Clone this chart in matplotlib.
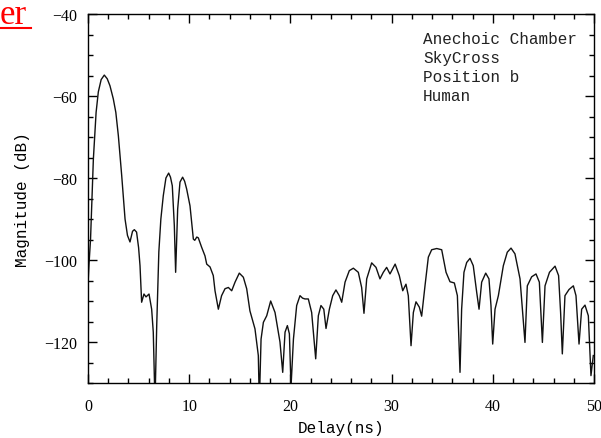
import matplotlib.pyplot as plt
from matplotlib.lines import Line2D
from matplotlib.ticker import MultipleLocator

# delay (ns) and magnitude (dB)
delay = [0.0, 0.1, 0.25, 0.53, 0.8, 1.02, 1.3, 1.61, 1.9, 2.17, 2.5, 2.75, 3.0,
         3.33, 3.66, 3.9, 4.15, 4.4, 4.58, 4.8, 5.0, 5.14, 5.3, 5.53, 5.73, 6.03,
         6.29, 6.45, 6.62, 6.79, 7.0, 7.2, 7.44, 7.7, 7.97, 8.15, 8.33, 8.53, 8.66,
         8.86, 9.09, 9.35, 9.55, 9.75, 10.08, 10.41, 10.55, 10.75, 10.9, 11.23,
         11.56, 11.73, 12.06, 12.38, 12.55, 12.88, 13.2, 13.54, 13.87, 14.2, 14.53,
         14.95, 15.35, 15.68, 16.0, 16.5, 16.83, 16.93, 17.1, 17.33, 17.66, 18.05,
         18.48, 18.97, 19.24, 19.47, 19.7, 19.9, 20.06, 20.3, 20.62, 20.95, 21.2,
         21.44, 21.77, 22.1, 22.5, 22.76, 23.02, 23.3, 23.52, 23.85, 24.18, 24.5,
         24.83, 25.07, 25.4, 25.82, 26.22, 26.71, 27.04, 27.27, 27.54, 28.03, 28.46,
         28.85, 29.18, 29.51, 29.84, 30.35, 30.76, 31.1, 31.42, 31.65, 31.92, 32.15,
         32.41, 32.74, 32.97, 33.3, 33.63, 33.96, 34.46, 34.95, 35.38, 35.77, 36.2,
         36.5, 36.76, 36.92, 37.15, 37.42, 37.75, 38.07, 38.41, 38.64, 38.9, 39.3,
         39.62, 39.82, 39.99, 40.22, 40.55, 41.04, 41.43, 41.8, 42.19, 42.69, 42.95,
         43.18, 43.41, 43.84, 44.27, 44.6, 44.9, 45.16, 45.6, 46.15, 46.5, 46.7,
         46.87, 47.13, 47.53, 47.96, 48.22, 48.52, 48.78, 49.11, 49.44, 49.7, 49.93]
magnitude = [-106, -101, -95, -75.4, -64, -59, -56, -54.9, -55.8, -57.5, -60.7, -64, -69.7,
             -79.4, -90, -94, -95.6, -93, -92.6, -93.2, -97, -101.4, -110.3, -108.3, -109, -108.3,
             -112, -117.6, -135, -116, -98, -90, -84.3, -80, -78.8, -79.8, -81.9, -91.6, -103,
             -87.6, -81, -79.8, -80.8, -82.7, -86.8, -94.9, -95.2, -94.4, -94.6, -96.9,
             -99, -101, -101.7, -103.8, -107.5, -112, -108.7, -107, -106.7, -107.5, -105.4,
             -103.2, -104.2, -107, -112.4, -116.8, -123.3, -135, -119.3, -115.2, -113.6, -110,
             -112.8, -120, -127.4, -117.6, -116, -118, -131, -119.3, -111.1, -108.7, -109.3,
             -109.5, -109.5, -112.8, -124.1, -113.6, -111.1, -112, -116.7, -112, -108.7, -107.3,
             -108.7, -110.3, -105.4, -102.6, -102, -103, -106.7, -113, -104.6, -100.7, -101.8,
             -104.6, -103, -101.8, -103.4, -101, -103.8, -107.5, -105.9, -108.7, -120.9, -112.8,
             -110.2, -111.5, -113.7, -106.3, -99.3, -97.5, -97.2, -97.5, -103, -105.3, -105.6,
             -108.7, -127.4, -112, -103, -100.6, -99.6, -101.4, -107.9, -112, -105.4, -103.2,
             -104.6, -111.1, -120.5, -112, -108.7, -101.4, -98.1, -97.1, -98.5, -104.6, -112.8,
             -120.1, -106.3, -104.1, -103.4, -105.4, -120.1, -106.3, -103, -101.5, -103.8, -112.8,
             -122.9, -108.7, -107.2, -106.3, -108.7, -120.5, -112, -111, -113.6, -128.2, -123.3]

legend_lines = ['Anechoic Chamber', 'SkyCross', 'Position b', 'Human']
x_ticks = [0, 10, 20, 30, 40, 50]
y_ticks = [-120, -100, -80, -60, -40]

fig = plt.figure(figsize=(6.01, 4.39), dpi=100)
ax = fig.add_axes([88 / 601, 55 / 439, 506 / 601, 369 / 439])

ax.plot(delay, magnitude, color='#111111', lw=1.0)

ax.set_xlim(0, 50)
ax.set_ylim(-130, -40)
ax.set_xticks(x_ticks)
ax.set_yticks(y_ticks)
ax.xaxis.set_minor_locator(MultipleLocator(2))
ax.yaxis.set_minor_locator(MultipleLocator(5))
ax.tick_params(which='both', direction='in', top=True, right=True, width=1.0)
ax.tick_params(which='major', length=6.5)
ax.tick_params(which='minor', length=3.5)
ax.tick_params(axis='x', pad=11)
ax.tick_params(axis='y', pad=8)
for lab in ax.get_xticklabels() + ax.get_yticklabels():
    lab.set_fontfamily('Liberation Serif')
    lab.set_fontsize(11.5)
for s in ax.spines.values():
    s.set_linewidth(1.0)

mono = 'Liberation Mono'
ax.set_xlabel('Delay(ns)', fontfamily=mono, fontsize=11.5, labelpad=4)
ax.set_ylabel('Magnitude (dB)', fontfamily=mono, fontsize=11.5, labelpad=10)

ax.text(0.662, 0.955, '\n'.join(legend_lines), transform=ax.transAxes,
        fontfamily=mono, fontsize=11.5, color='#222222', va='top', ha='left',
        linespacing=1.35)

# red title fragment in the top-left corner (the rest lies outside the crop)
fig.text(0, 1 - 24 / 439, 'er', color='red', fontfamily='Liberation Serif',
         fontsize=25, ha='left', va='baseline')
fig.add_artist(Line2D([0, 31 / 601], [1 - 29 / 439, 1 - 29 / 439], color='red', lw=1.5))

fig.savefig('out.png', dpi=100)
